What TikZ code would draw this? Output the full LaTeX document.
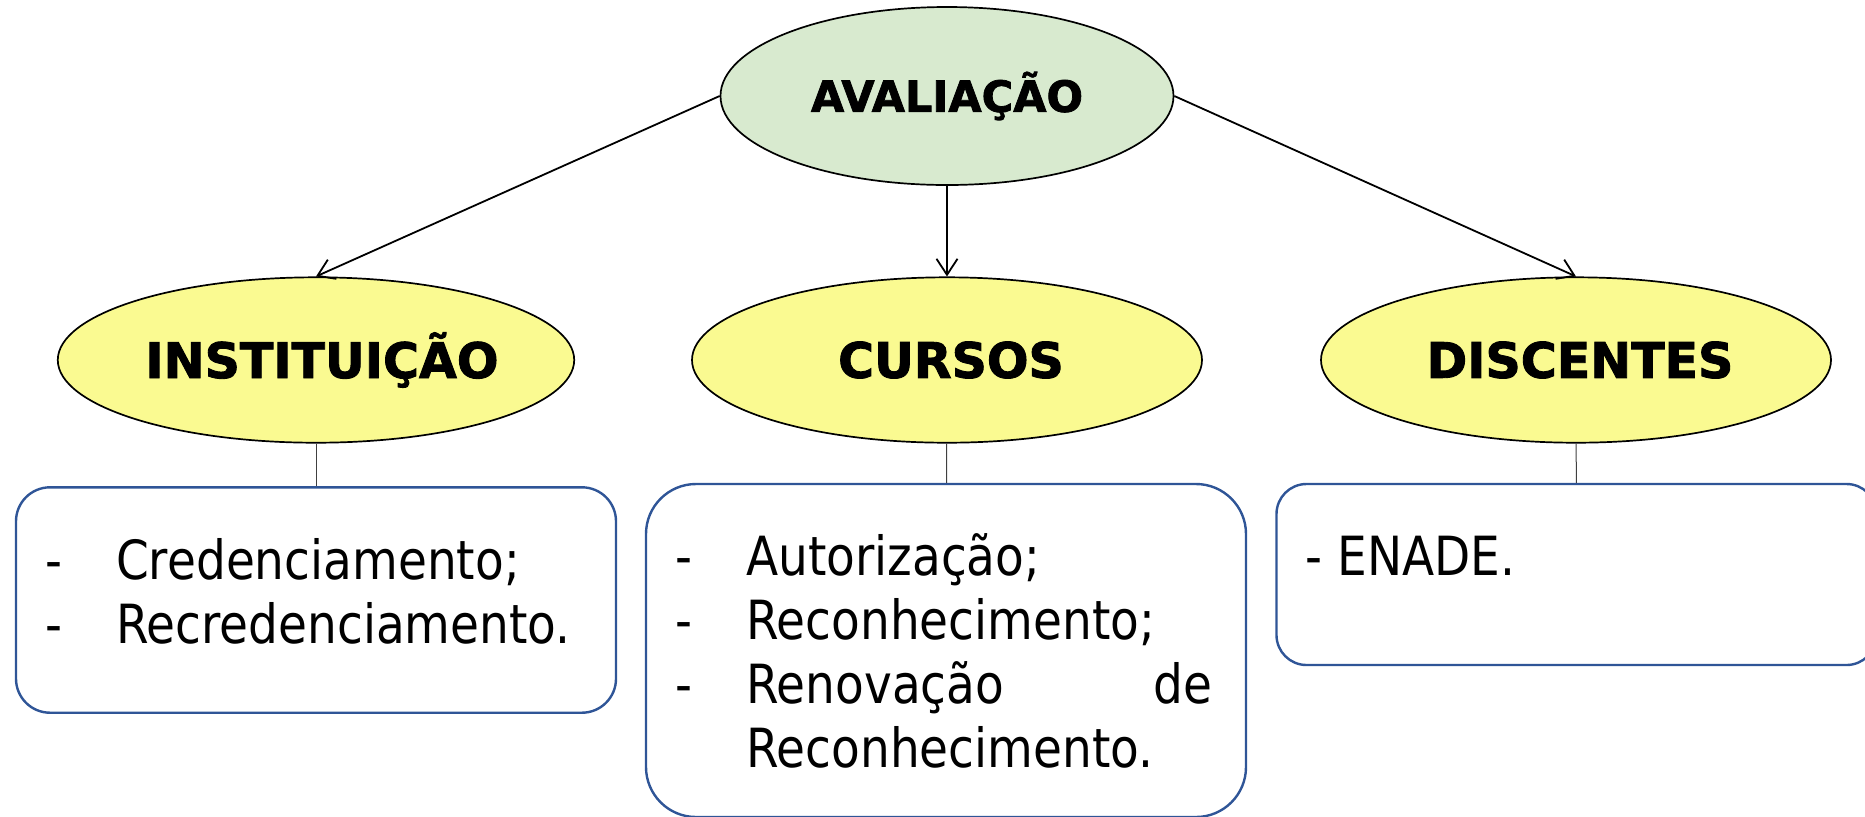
\documentclass[tikz,border=0pt]{standalone}
\usepackage{fontspec}
\usepackage{tikz}
\usetikzlibrary{shapes.geometric,arrows.meta}
\newfontfamily\headfont{DejaVu Sans Bold}[FakeBold=1.8]
\newfontfamily\itemfont{DejaVu Sans}[FakeStretch=0.87]
\definecolor{rootgreen}{RGB}{216,234,207}
\definecolor{areayellow}{RGB}{250,250,145}
\definecolor{listblue}{RGB}{47,85,151}
\tikzstyle{root}=[ellipse, draw=black, line width=0.85pt, fill=rootgreen, inner sep=0pt, minimum width=226.5pt, minimum height=89pt, font=\headfont\fontsize{21.5}{25}\selectfont]
\tikzstyle{area}=[ellipse, draw=black, line width=0.85pt, fill=areayellow, inner sep=0pt, minimum width=255pt, minimum height=82.7pt, font=\headfont\fontsize{24.5}{28}\selectfont]
\tikzstyle{list}=[rectangle, draw=listblue, line width=1.2pt, fill=white, minimum width=300pt]
\tikzstyle{items}=[inner sep=0pt, anchor=base west, font=\itemfont\fontsize{27}{32}\selectfont]
\tikzstyle{edge}=[-{Straight Barb[length=8pt,width=10.5pt]}, line width=0.9pt]
\tikzstyle{stem}=[-, line width=0.5pt, draw=black!75]
\newcommand{\dashitem}[1]{\makebox[35.5pt][l]{-}#1}
\begin{document}
\begin{tikzpicture}[x=0.5pt,y=-0.5pt]
	\useasboundingbox (0,0) rectangle (1865,816);
	
	%The root
	\draw (947,96) node[root] (aval) {AVALIAÇÃO};
	
	%The three areas
	\draw (316,360) node[area] (inst) {\hspace*{6pt}INSTITUIÇÃO};
	\draw (947,360) node[area] (curs) {\hspace*{4pt}CURSOS};
	\draw (1576,360) node[area] (disc) {\hspace*{4pt}DISCENTES};
	
	\draw[edge] (aval.west) -- (inst.north);
	\draw[edge] (aval.south) -- (curs.north);
	\draw[edge] (aval.east) -- (disc.north);
	
	%The lists
	\draw (316,600) node[list, minimum height=112.7pt, rounded corners=17pt] (inst-list) {};
	\draw (946,650.5) node[list, minimum height=166.5pt, rounded corners=25pt] (curs-list) {};
	\draw (1576.5,574.5) node[list, minimum height=90.5pt, rounded corners=15pt] (disc-list) {};
	
	\draw[stem] (inst) -- (inst-list);
	\draw[stem] (curs) -- (curs-list);
	\draw[stem] (disc) -- (disc-list);
	
	\node[items] (inst-text) at ([xshift=15pt,yshift=-46.5pt]inst-list.north west)
		{\parbox[t]{270pt}{\dashitem{Credenciamento;}\\\dashitem{Recredenciamento.}}};
	\node[items] (curs-text) at ([xshift=15pt,yshift=-46.5pt]curs-list.north west)
		{\parbox[t]{270pt}{\dashitem{Autorização;}\\\dashitem{Reconhecimento;}\\\dashitem{\makebox[233pt][l]{Renovação\hfill de}}\\\hspace*{35.5pt}Reconhecimento.}};
	\node[items] (disc-text) at ([xshift=15pt,yshift=-46.5pt]disc-list.north west)
		{- ENADE.};
\end{tikzpicture}
\end{document}
